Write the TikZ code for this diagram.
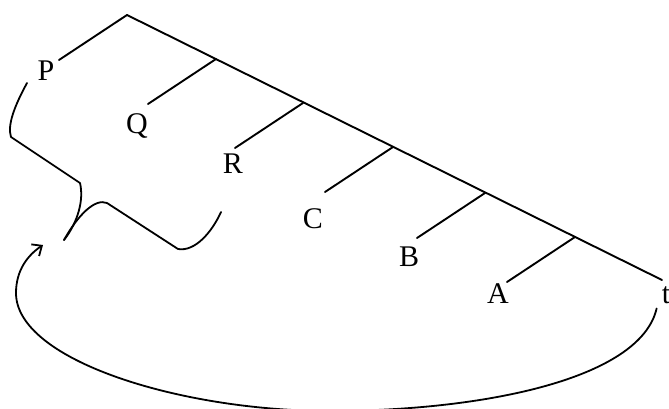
\documentclass[tikz,border=0pt]{standalone}
\usepackage{fontspec}
\setmainfont{Liberation Serif}
\usetikzlibrary{arrows.meta}

\begin{document}
\begin{tikzpicture}[x=1pt,y=-1pt,line cap=round,line join=round,
  branch/.style={line width=1.9pt},
  brace/.style={line width=1.8pt},
  loopback/.style={line width=1.8pt,-{Straight Barb[length=8pt,width=14pt]}},
  lbl/.style={font=\fontsize{30}{36}\selectfont,anchor=base,inner sep=0pt}]
  \useasboundingbox (0,0) rectangle (669,409);
  % spine of the tree, root down to t
  \coordinate (root) at (127,15);
  \coordinate (tend) at (662,280);
  \draw[branch] (root) -- (tend);
  % side branches hang off the spine, all the same slant
  \foreach \n/\x/\y in {P/127/15,Q/216/59,R/303/103,C/393/147,B/485/193,A/575/237} {
    \coordinate (j\n) at (\x,\y);
    \draw[branch] (j\n) -- ++(-68,45) coordinate (e\n);
  }
  % leaf labels
  \node[lbl] (P) at (46,81) {P};
  \node[lbl] (Q) at (137,134) {Q};
  \node[lbl] (R) at (233,173) {R};
  \node[lbl] (C) at (313,228) {C};
  \node[lbl] (B) at (409,266) {B};
  \node[lbl] (A) at (498,303) {A};
  \node[lbl] (t) at (666,303) {t};
  % brace under P, Q and R
  \coordinate (cusp) at (64,240);
  \draw[brace] (27,83) .. controls (15,105) and (7,125) .. (11,137)
    -- (80,183) .. controls (84,200) and (78,222) .. (cusp);
  \draw[brace] (cusp) .. controls (78,215) and (95,198) .. (107,203)
    -- (178,249) .. controls (195,252) and (212,232) .. (221,212);
  % long arrow from t back round to the brace
  \coordinate (tip) at (43,245);
  \draw[loopback] ([shift={(-5,5)}]t.south west)
    .. controls (640,380) and (480,411) .. (330,411)
    .. controls (180,411) and (16,360) .. (16,293)
    .. controls (16,270) and (28,255) .. (tip);
\end{tikzpicture}
\end{document}
